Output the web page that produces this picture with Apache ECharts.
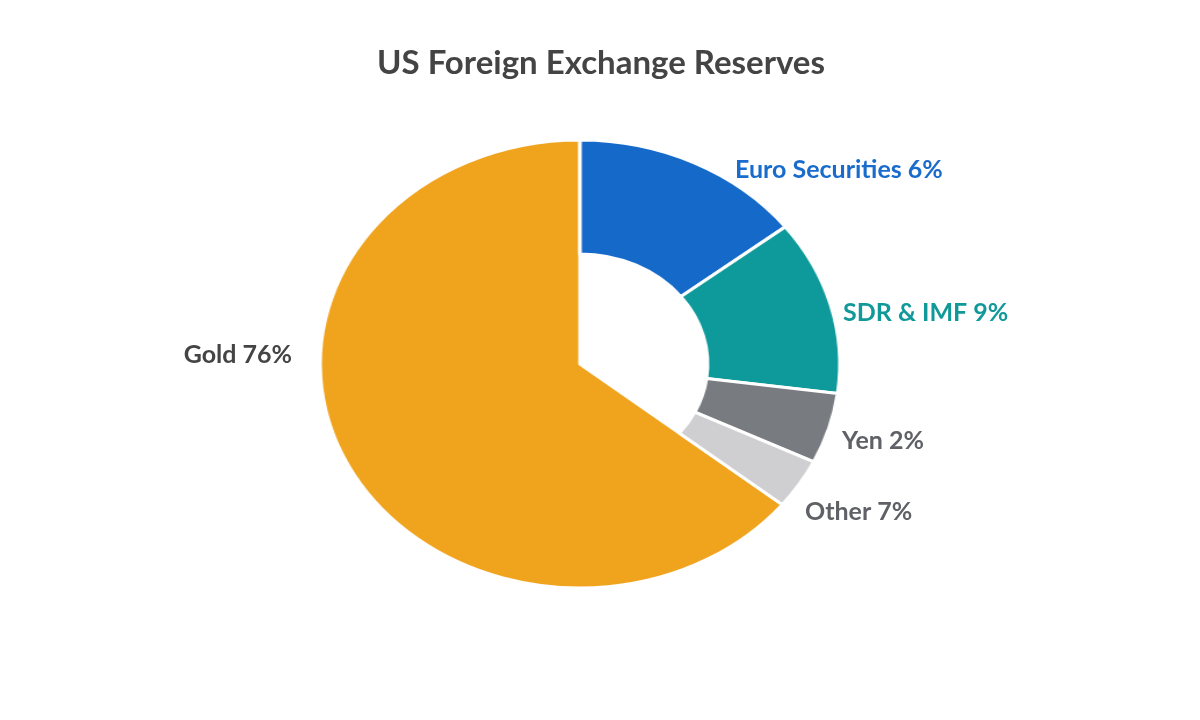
<!DOCTYPE html>
<html><head><meta charset="utf-8">
<script src="https://cdn.jsdelivr.net/npm/echarts@6/dist/echarts.min.js"></script>
<style>
body{margin:0;background:#fff;}
#pie,#txt{position:absolute;left:0;top:0;width:1200px;height:720px;}
#pie{transform:scaleX(1.16);transform-origin:580px 364px;}
</style></head><body>
<div id="pie"></div><div id="txt"></div>
<script>
const categories = ['Euro Securities', 'SDR & IMF', 'Yen', 'Other', 'Gold'];
const sliceShares = [14.5, 12.6, 5.1, 3.6, 64.2];
const labelPercents = ['6%', '9%', '2%', '7%', '76%'];
const colors = ['#1469c9', '#0e9a9a', '#787b80', '#cfcfd2', '#f0a41e'];
const labelColors = ['#1a6ccc', '#11999a', '#5f6166', '#5f6166', '#444444'];

function mk(show) {
  return categories.map((c, i) => ({
    name: c, value: sliceShares[i],
    itemStyle: { color: show(i) ? colors[i] : 'transparent', borderColor: show(i) ? '#fff' : 'transparent', borderWidth: 3 }
  }));
}
const pie = echarts.init(document.getElementById('pie'));
pie.setOption({
  animation: false,
  series: [
    { type: 'pie', center: [580, 364], radius: [0, 224], startAngle: 90, clockwise: true, label: { show: false }, labelLine: { show: false }, silent: true, data: mk(i => i === 4) },
    { type: 'pie', center: [580, 364], radius: [110, 224], startAngle: 90, clockwise: true, label: { show: false }, labelLine: { show: false }, silent: true, data: mk(i => i !== 4) }
  ]
});
const labelPos = [[735, 170, 'left'], [843, 313, 'left'], [842, 441, 'left'], [805, 512, 'left'], [292, 355, 'right']];
const txt = echarts.init(document.getElementById('txt'));
txt.setOption({
  animation: false,
  title: { text: 'US Foreign Exchange Reserves', left: 596, top: 42, textAlign: 'center',
    textStyle: { fontFamily: 'Lato', fontSize: 33, fontWeight: 'bold', color: '#444' } },
  graphic: categories.map((c, i) => ({
    type: 'text', x: labelPos[i][0], y: labelPos[i][1],
    style: { text: c + ' ' + labelPercents[i], fill: labelColors[i], font: 'bold 25px Lato', align: labelPos[i][2], verticalAlign: 'middle' }
  }))
});
</script></body></html>
